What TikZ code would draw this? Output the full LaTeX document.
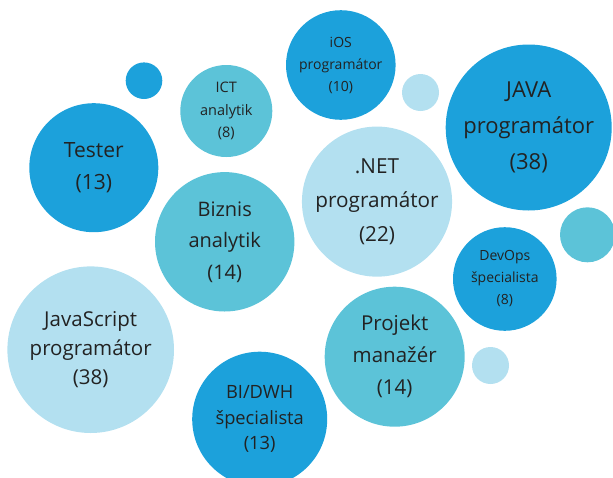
\documentclass[tikz,border=0pt]{standalone}
\usepackage{fontspec}
\setmainfont{Open Sans}
\usepackage{xcolor}
\usetikzlibrary{positioning}
\definecolor{bubbleDark}{HTML}{1CA1DB}
\definecolor{bubbleTeal}{HTML}{5CC3D8}
\definecolor{bubbleLight}{HTML}{B3E0F0}
\definecolor{labelGray}{HTML}{222222}
\tikzset{
  bubble/.style={circle, inner sep=0pt, align=center, text=labelGray},
  dark/.style={bubble, fill=bubbleDark},
  teal/.style={bubble, fill=bubbleTeal},
  light/.style={bubble, fill=bubbleLight},
  fs/.style 2 args={font=\fontsize{#1}{#2}\selectfont}
}
\begin{document}
\begin{tikzpicture}[x=1pt,y=-1pt]
\useasboundingbox (0,0) rectangle (613,477);
\clip (0,0) rectangle (613,477);

% top row
\node[dark, minimum size=36.6pt] (dotA) at (144,80.7) {};
\node[teal, minimum size=92pt, fs={14.5}{22.5}] (ict) at (226.3,111) {ICT\\analytik\\(8)};
\node[dark, minimum size=109.6pt, fs={14}{22}] (ios) at (340.8,65) {iOS\\programátor\\(10)};
\node[light, minimum size=37pt] (dotB) at (420.5,92.5) {};
\node[dark, minimum size=166pt, fs={22}{36}] (java) at (528.7,127.5) {JAVA\\programátor\\(38)};

% middle row
\node[dark, minimum size=129pt, fs={21}{32}] (tester) at (93.8,167.7) {Tester\\(13)};
\node[light, minimum size=147pt, fs={20.7}{34}] (net) at (377,201.6) {.NET\\programátor\\(22)};
\node[teal, minimum size=139.4pt, fs={20}{31.5}] (biznis) at (224.7,241.8) {Biznis\\analytik\\(14)};
\node[teal, minimum size=55pt] (dotC) at (587.5,234.8) {};
\node[dark, minimum size=103.6pt, fs={14}{22}] (devops) at (504.8,279) {DevOps\\špecialista\\(8)};

% bottom row
\node[light, minimum size=166.6pt, fs={20.5}{29}] (js) at (90.7,349.7) {JavaScript\\programátor\\(38)};
\node[teal, minimum size=140pt, fs={20.5}{32}] (pm) at (394.7,356.7) {Projekt\\manažér\\(14)};
\node[light, minimum size=37pt] (dotD) at (490.5,365.5) {};
\node[dark, minimum size=135pt, fs={18.3}{25.5}] (bi) at (259.7,419.2) {BI/DWH\\špecialista\\(13)};
\end{tikzpicture}
\end{document}
